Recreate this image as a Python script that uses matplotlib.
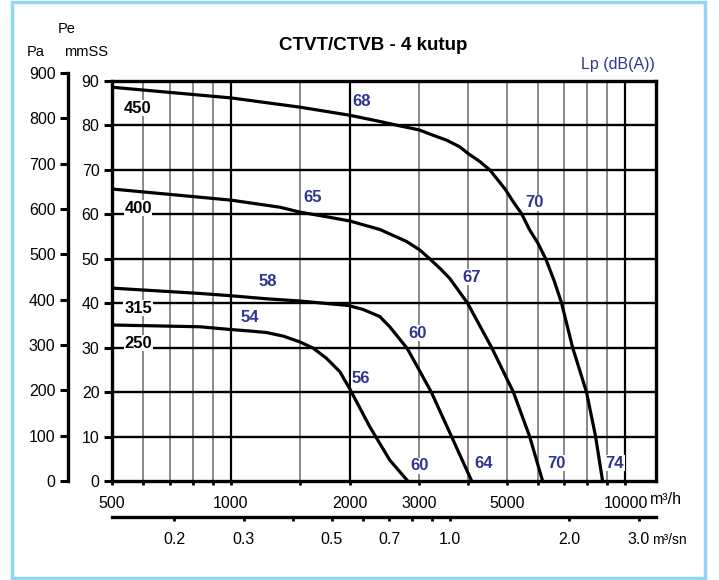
import matplotlib
matplotlib.use("Agg")
import matplotlib.pyplot as plt
from matplotlib.patches import Rectangle
from matplotlib.ticker import NullFormatter

plt.rcParams['font.family'] = ['Liberation Sans', 'DejaVu Sans']

# fan curves, airflow in m3/h and static pressure in mmSS
flow_450 = [500, 1000, 1500, 2000, 2385, 2680, 3000, 3254, 3518, 3801, 3991, 4273, 4530,
            4753, 4971, 5188, 5450, 5718, 6000, 6280, 6600, 6890, 7348, 7967, 8401, 8750]
pe_450 = [88.6, 86.2, 84.1, 82.3, 80.9, 79.9, 79.0, 77.8, 76.7, 75.2, 73.7, 71.9, 70.0,
          67.7, 65.5, 62.9, 60.2, 56.5, 53.5, 50.0, 45.0, 40.0, 30.0, 20.0, 10.0, 0.0]

flow_400 = [500, 1000, 1332, 1496, 1714, 2002, 2385, 2787, 3011, 3191, 3383, 3586, 3981,
            4582, 5200, 5718, 6167]
pe_400 = [65.7, 63.2, 61.6, 60.5, 59.6, 58.5, 56.6, 53.9, 52.0, 50.0, 47.9, 45.6, 40.0,
          30.0, 20.0, 10.0, 0.0]

flow_315 = [500, 835, 994, 1232, 1496, 1817, 1982, 2163, 2385, 2528, 2800, 3000, 3221,
            3625, 4077]
pe_315 = [43.4, 42.2, 41.7, 41.0, 40.5, 39.8, 39.5, 38.6, 37.0, 34.7, 29.8, 25.0, 20.0,
          10.0, 0.0]

flow_250 = [500, 835, 994, 1118, 1232, 1358, 1496, 1617, 1748, 1889, 2000, 2250, 2528, 2808]
pe_250 = [35.1, 34.7, 34.1, 33.75, 33.4, 32.6, 31.3, 29.9, 27.6, 24.6, 20.8, 12.2, 4.7, 0.0]

sizes = ['450', '400', '315', '250']
size_label_x = [582, 582, 582, 582]
size_label_y = [83.9, 61.4, 38.9, 31.0]

# sound pressure levels along the curves
lp_text = ['68', '70', '65', '67', '58', '54', '60', '56', '60', '64', '70', '74']
lp_x = [2148, 5890, 1613, 4077, 1242, 1117, 2977, 2139, 3000, 4375, 6694, 9387]
lp_y = [85.3, 62.6, 63.7, 45.9, 44.8, 36.9, 33.3, 23.0, 3.4, 4.05, 4.05, 4.05]

x_major = [500, 1000, 2000, 3000, 5000, 10000]
x_minor = [600, 700, 800, 900, 1500, 4000, 6000, 7000, 8000, 9000]
x_grid_dark = [1000, 2000, 10000]
x_grid_light = [600, 700, 800, 900, 1500, 3000, 4000, 5000, 6000, 7000, 8000, 9000]
y_mmss = list(range(0, 91, 10))
y_pa = list(range(0, 901, 100))
q_major = [0.2, 0.3, 0.5, 0.7, 1.0, 2.0, 3.0]
q_minor = [0.4, 0.6, 0.8, 0.9]

W, H = 719, 580
L, R, B, T = 112, 656, 481, 81
blue = '#2e3592'

fig = plt.figure(figsize=(W / 100, H / 100), dpi=100)
ax = fig.add_axes([L / W, (H - B) / H, (R - L) / W, (B - T) / H])
ax.set_xscale('log')
ax.set_xlim(500, 11950)
ax.set_ylim(0, 90)

for v in x_grid_light:
    ax.axvline(v, color='#6a6a6a', lw=1.1, zorder=1)
for v in x_grid_dark:
    ax.axvline(v, color='black', lw=1.6, zorder=1)
for v in y_mmss[1:-1]:
    ax.axhline(v, color='black', lw=1.7, zorder=1)

for fx, fy in [(flow_450, pe_450), (flow_400, pe_400), (flow_315, pe_315), (flow_250, pe_250)]:
    ax.plot(fx, fy, color='black', lw=2.3, zorder=4, solid_capstyle='butt',
            solid_joinstyle='round')

box = dict(facecolor='white', edgecolor='none', pad=0.5)
for s, sx, sy in zip(sizes, size_label_x, size_label_y):
    ax.text(sx, sy, s, ha='center', va='center', fontsize=12, fontweight='bold',
            bbox=box, zorder=3)
for s, sx, sy in zip(lp_text, lp_x, lp_y):
    ax.text(sx, sy, s, ha='center', va='center', fontsize=12, fontweight='bold',
            color=blue, bbox=box, zorder=3)

for sp in ax.spines.values():
    sp.set_linewidth(2.4)
    sp.set_zorder(5)

ax.set_yticks(y_mmss)
ax.set_yticklabels([str(v) for v in y_mmss])
ax.tick_params(axis='y', length=6, width=2.2, pad=3, labelsize=11.5)
ax.set_xticks(x_major)
ax.set_xticklabels([str(v) for v in x_major])
ax.set_xticks(x_minor, minor=True)
ax.xaxis.set_minor_formatter(NullFormatter())
ax.tick_params(axis='x', which='both', length=3, width=2, pad=8, labelsize=11.5)

# second flow scale in m3/s
sec = ax.secondary_xaxis(-0.09, functions=(lambda q: q / 3600, lambda q: q * 3600))
sec.set_xticks(q_major)
sec.set_xticklabels(['%.1f' % v for v in q_major])
sec.set_xticks(q_minor, minor=True)
sec.xaxis.set_minor_formatter(NullFormatter())
sec.tick_params(axis='x', which='both', length=3, width=2, pad=8, labelsize=11.5)
sec.spines['bottom'].set_linewidth(2.4)

# pressure scale in Pa (1 mmSS = 9.80665 Pa)
pa_h = (B - T) / H * 900 / (90 * 9.80665)
ax_pa = fig.add_axes([68 / W, (H - B) / H, 0.0005, pa_h])
ax_pa.set_ylim(0, 900)
ax_pa.set_yticks(y_pa)
ax_pa.set_yticklabels([str(v) for v in y_pa])
ax_pa.set_xticks([])
for k in ['top', 'right', 'bottom']:
    ax_pa.spines[k].set_visible(False)
ax_pa.spines['left'].set_linewidth(2.4)
ax_pa.patch.set_visible(False)
ax_pa.tick_params(axis='y', length=6, width=2.2, pad=3, labelsize=11.5)

fig.text(650 / W, 1 - 500 / H, 'm³/h', ha='left', va='center', fontsize=11.5)
fig.text(652 / W, 1 - 540 / H, 'm³/sn', ha='left', va='center', fontsize=10)
fig.text(67 / W, 1 - 29 / H, 'Pe', ha='center', va='center', fontsize=10.5)
fig.text(36 / W, 1 - 52 / H, 'Pa', ha='center', va='center', fontsize=10.5)
fig.text(86 / W, 1 - 52 / H, 'mmSS', ha='center', va='center', fontsize=10.5)
fig.text(373 / W, 1 - 46 / H, 'CTVT/CTVB - 4 kutup', ha='center', va='center',
         fontsize=13.5, fontweight='bold')
fig.text(655 / W, 1 - 65 / H, 'Lp (dB(A))', ha='right', va='center', fontsize=11.5, color=blue)

fig.add_artist(Rectangle((12 / W, 2 / H), (705 - 12) / W, (578 - 2) / H,
                         transform=fig.transFigure, fill=False, ec='#93d5f2', lw=2.5))

fig.savefig('out.png', dpi=100)
